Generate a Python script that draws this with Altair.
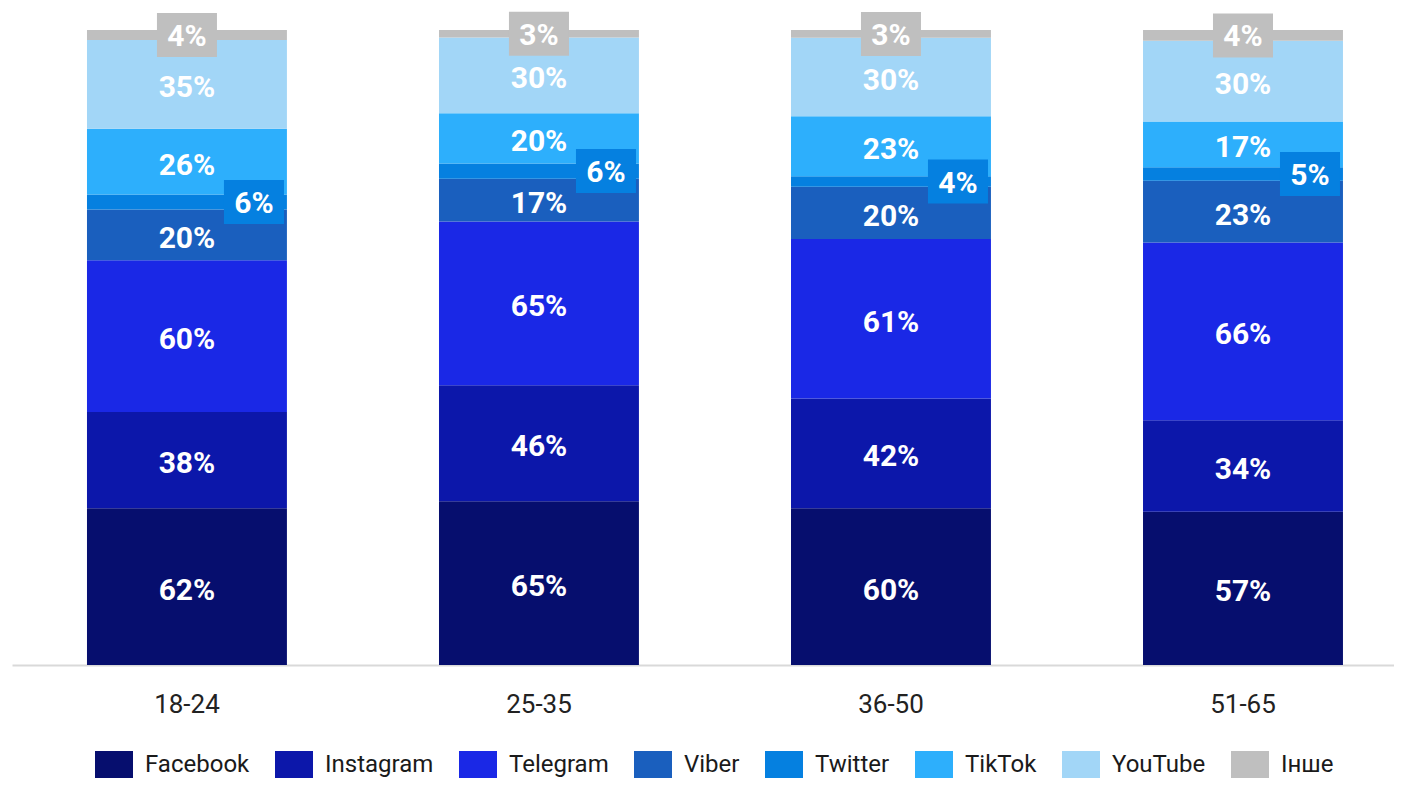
import altair as alt
import pandas as pd

ages = ["18-24", "25-35", "36-50", "51-65"]
platforms = ["Facebook", "Instagram", "Telegram", "Viber", "Twitter", "TikTok", "YouTube", "Інше"]
colors = ["#060E6E", "#0C17AA", "#1A28E6", "#1A5FBE", "#0580E0", "#2DAFFC", "#A2D6F7", "#BFBFBF"]

facebook = [62, 65, 60, 57]
instagram = [38, 46, 42, 34]
telegram = [60, 65, 61, 66]
viber = [20, 17, 20, 23]
twitter = [6, 6, 4, 5]
tiktok = [26, 20, 23, 17]
youtube = [35, 30, 30, 30]
other = [4, 3, 3, 4]

series = [facebook, instagram, telegram, viber, twitter, tiktok, youtube, other]
rows = []
for oi, (p, vals) in enumerate(zip(platforms, series)):
    for a, v in zip(ages, vals):
        rows.append({"age": a, "platform": p, "value": v, "order": oi})
df = pd.DataFrame(rows)

FONT = "Roboto"

xscale = alt.Scale(domain=ages, paddingInner=0.432, paddingOuter=0.179, align=0.595)
xenc = alt.X("age:N", sort=ages, scale=xscale,
             axis=alt.Axis(title=None, ticks=False, tickSize=0, labelAngle=0,
                           labelFont=FONT, labelFontSize=26, labelColor="#222222",
                           labelPadding=26, domainColor="#D9D9D9", domainWidth=2,
                           grid=False))
yscale = alt.Scale(domain=[0, 1])

base = alt.Chart(df).transform_stack(
    stack="value", groupby=["age"], as_=["y0", "y1"],
    sort=[alt.SortField("order", order="ascending")], offset="normalize"
).transform_calculate(
    mid="(datum.y0 + datum.y1) / 2", label="datum.value + '%'"
)

legend_shape = "M-1.357,-1H1.357V1H-1.357Z"
bars = base.mark_bar().encode(
    x=xenc,
    y=alt.Y("y0:Q", scale=yscale, axis=None),
    y2="y1:Q",
    color=alt.Color("platform:N", scale=alt.Scale(domain=platforms, range=colors),
                    legend=alt.Legend(title=None, orient="none", direction="horizontal",
                                      columns=8, legendX=88, legendY=721,
                                      symbolType=legend_shape, symbolSize=784,
                                      symbolStrokeWidth=0, symbolOpacity=1,
                                      labelFont=FONT, labelFontSize=24,
                                      labelColor="#1a1a1a", labelOffset=17,
                                      columnPadding=25, padding=0)),
    order=alt.Order("order:Q"),
)

inner = base.transform_filter(
    "datum.platform != 'Twitter' && datum.platform != 'Інше'"
).mark_text(font=FONT, fontWeight="bold", fontSize=30, color="white", baseline="middle", dy=4).encode(
    x=xenc, y=alt.Y("mid:Q", scale=yscale, axis=None), text="label:N"
)

box_shape = "M-1.364,-1H1.364V1H-1.364Z"
tw_box = base.transform_filter("datum.platform == 'Twitter'").mark_point(
    shape=box_shape, size=1936, filled=True, opacity=1, strokeWidth=0,
    color="#0580E0", xOffset=67
).encode(x=xenc, y=alt.Y("mid:Q", scale=yscale, axis=None))
tw_text = base.transform_filter("datum.platform == 'Twitter'").mark_text(
    font=FONT, fontWeight="bold", fontSize=30, color="white", baseline="middle", dx=67, dy=2
).encode(x=xenc, y=alt.Y("mid:Q", scale=yscale, axis=None), text="label:N")

ot_box = base.transform_filter("datum.platform == 'Інше'").mark_point(
    shape=box_shape, size=1936, filled=True, opacity=1, strokeWidth=0,
    color="#BFBFBF"
).encode(x=xenc, y=alt.Y("mid:Q", scale=yscale, axis=None))
ot_text = base.transform_filter("datum.platform == 'Інше'").mark_text(
    font=FONT, fontWeight="bold", fontSize=30, color="white", baseline="middle", dy=2
).encode(x=xenc, y=alt.Y("mid:Q", scale=yscale, axis=None), text="label:N")

chart = alt.layer(bars, inner, tw_box, tw_text, ot_box, ot_text).properties(
    width=1382, height=635,
    background="white",
    autosize=alt.AutoSizeParams(type="none"),
    padding={"left": 4, "top": 22, "right": 0, "bottom": 113},
).configure_view(strokeWidth=0, stroke="transparent")

chart.save("out.html", embed_options={"renderer": "svg", "actions": False})
